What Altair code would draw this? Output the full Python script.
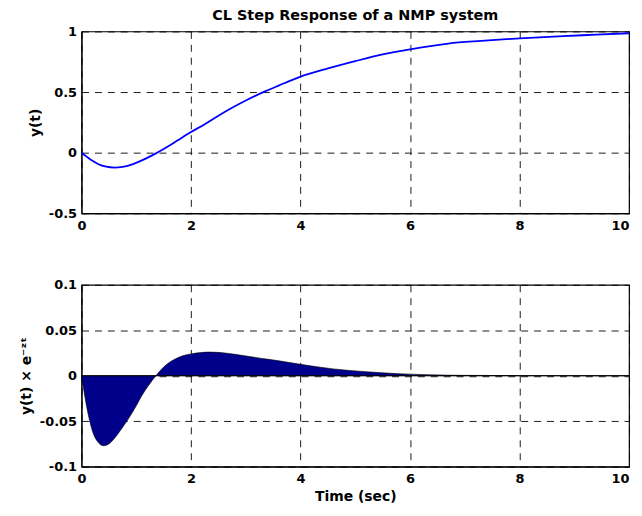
import altair as alt
import pandas as pd

# ---- data ----
t_top = [0, 0.1, 0.2, 0.3, 0.45, 0.6, 0.75, 0.9, 1.05, 1.2, 1.35, 1.5, 1.75, 2.0,
         2.25, 2.5, 2.75, 3.0, 3.35, 3.6, 4.0, 4.5, 5.0, 5.5, 6.0, 6.7, 7.3, 8.0,
         8.8, 9.4, 10.0]
y_top = [0, -0.035, -0.067, -0.093, -0.116, -0.123, -0.117, -0.100, -0.074, -0.043,
         -0.008, 0.030, 0.100, 0.170, 0.235, 0.305, 0.370, 0.430, 0.505, 0.553,
         0.627, 0.695, 0.755, 0.810, 0.852, 0.900, 0.922, 0.943, 0.962, 0.973, 0.985]

t_bot = [0, 0.05, 0.1, 0.15, 0.2, 0.3, 0.4, 0.5, 0.6, 0.7, 0.85, 1.0, 1.1, 1.22,
         1.36, 1.5, 1.7, 1.85, 2.0, 2.35, 2.65, 2.95, 3.3, 3.6, 4.0, 4.6, 5.2, 5.8,
         6.35, 7.0, 8.0, 10.0]
v_bot = [0, -0.019, -0.036, -0.050, -0.061, -0.073, -0.077, -0.075, -0.069, -0.061,
         -0.048, -0.033, -0.022, -0.011, 0.0, 0.0095, 0.018, 0.022, 0.024, 0.026,
         0.0248, 0.0222, 0.019, 0.0165, 0.0125, 0.0075, 0.0044, 0.0022, 0.001,
         0.0004, 0.0001, 0.0]

x_ticks = [0, 2, 4, 6, 8, 10]
top_yticks = [-0.5, 0, 0.5, 1]
bot_yticks = [-0.1, -0.05, 0, 0.05, 0.1]

title_text = "CL Step Response of a NMP system"
top_ylabel = "y(t)"
bot_ylabel = "y(t) \u00d7 e\u207b\u1dbb\u1d57"
bot_xlabel = "Time (sec)"

FONT = "DejaVu Sans"
W, H = 551, 183

top_df = pd.DataFrame({"t": t_top, "y": y_top})
bot_df = pd.DataFrame({"t": t_bot, "v": v_bot})
zero_df = pd.DataFrame({"v": [0.0]})

xscale = alt.Scale(domain=[0, 10], nice=False)
last_align = {"condition": {"test": "datum.value == 10", "value": "right"}, "value": "center"}

top = alt.Chart(top_df).mark_line(color="#0000FF", strokeWidth=1.8, interpolate="monotone").encode(
    x=alt.X("t:Q", scale=xscale,
            axis=alt.Axis(values=x_ticks, title=None, labelExpr="toString(datum.value)",
                          labelPadding=6, labelAlign=last_align)),
    y=alt.Y("y:Q", scale=alt.Scale(domain=[-0.5, 1], nice=False, zero=False),
            axis=alt.Axis(values=top_yticks, title=top_ylabel, labelExpr="toString(datum.value)")),
).properties(
    width=W, height=H,
    title=alt.TitleParams(title_text, font=FONT, fontSize=14.5, fontWeight="bold",
                          color="black", anchor="middle", offset=2.5),
)

area = alt.Chart(bot_df).mark_area(color="#00008B", stroke="black", strokeWidth=0.6,
                                   interpolate="monotone").encode(
    x=alt.X("t:Q", scale=xscale,
            axis=alt.Axis(values=x_ticks, title=bot_xlabel, labelExpr="toString(datum.value)",
                          labelPadding=6, titlePadding=4, labelAlign=last_align)),
    y=alt.Y("v:Q", scale=alt.Scale(domain=[-0.1, 0.1], nice=False),
            axis=alt.Axis(values=bot_yticks, title=bot_ylabel, labelExpr="toString(datum.value)")),
)
zero = alt.Chart(zero_df).mark_rule(color="black", strokeWidth=1).encode(y="v:Q")
bottom = alt.layer(area, zero).properties(width=W, height=H)

chart = alt.vconcat(top, bottom, spacing=45).configure_axis(
    labelFont=FONT, labelFontSize=13, labelFontWeight="bold", labelColor="black",
    titleFont=FONT, titleFontSize=14, titleFontWeight="bold", titleColor="black",
    domainColor="black", domainWidth=1, ticks=False, labelPadding=5, titlePadding=6,
    gridColor="black", gridDash=[7, 6], gridWidth=0.9, gridOpacity=1, labelFlush=False,
).configure_view(stroke="black", strokeWidth=1.2).properties(
    padding={"left": 10, "top": -3, "right": 0, "bottom": -3},
    background="white",
)

chart.save("out.html", embed_options={"renderer": "svg", "actions": False})
